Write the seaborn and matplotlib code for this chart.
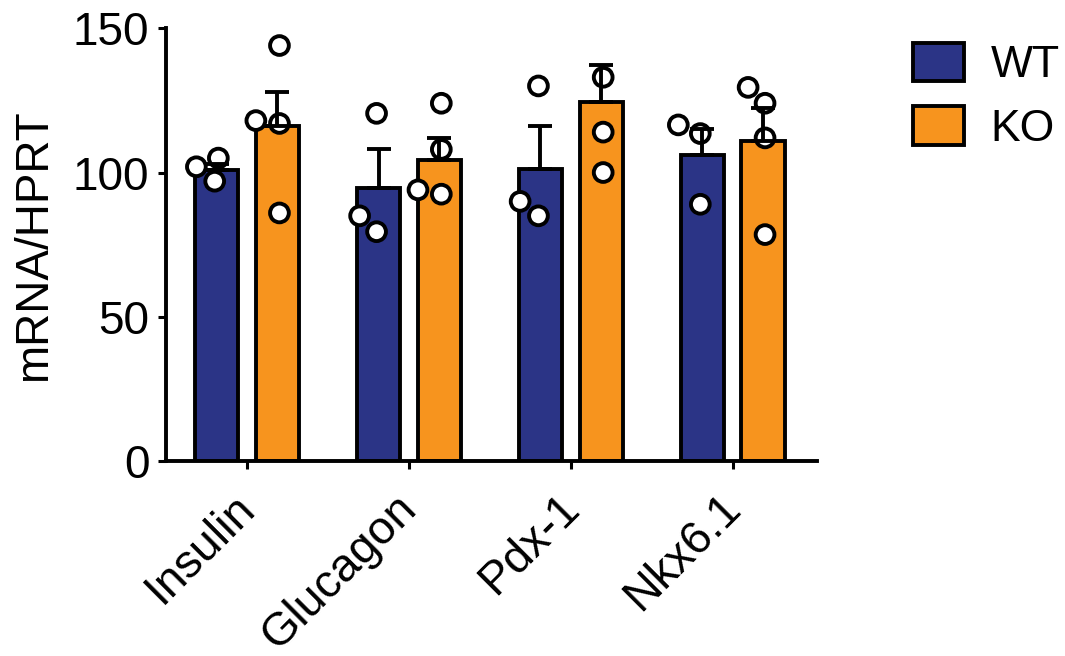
import pandas as pd
import matplotlib.pyplot as plt
import matplotlib.patches as mpatches
import matplotlib.transforms as mtransforms
import seaborn as sns

# values
genes = ["Insulin", "Glucagon", "Pdx-1", "Nkx6.1"]
groups = ["WT", "KO"]

wt_mean = [101.0, 94.6, 101.3, 106.0]
ko_mean = [116.0, 104.3, 124.5, 110.8]
wt_sem = [2.0, 13.5, 14.7, 9.2]
ko_sem = [12.0, 7.7, 12.7, 11.5]

wt_points = [[105, 102, 97], [120.5, 85, 79.5], [130, 90, 85], [116.5, 113.5, 89]]
ko_points = [[144, 118, 117, 86], [124, 108, 94, 92.5], [133, 114, 100], [129.5, 124, 112, 78.5]]

colors = {"WT": "#2B3486", "KO": "#F7941E"}

sns.set_theme(style="ticks")
plt.rcParams['font.family'] = ['Liberation Sans', 'DejaVu Sans']
plt.rcParams.update({"text.color": "black", "axes.labelcolor": "black",
                     "xtick.color": "black", "ytick.color": "black",
                     "axes.edgecolor": "black"})

LW = 2.8

# long-form tables
bars = pd.DataFrame({
    "gene": genes * 2,
    "group": ["WT"] * 4 + ["KO"] * 4,
    "value": wt_mean + ko_mean,
    "sem": wt_sem + ko_sem,
})
rows = []
for g, pts in zip(genes, wt_points):
    rows += [(g, "WT", v) for v in pts]
for g, pts in zip(genes, ko_points):
    rows += [(g, "KO", v) for v in pts]
points = pd.DataFrame(rows, columns=["gene", "group", "value"])

fig = plt.figure(figsize=(10.65, 6.56), dpi=100)
ax = fig.add_axes([0.156, 0.297, 0.611, 0.660])

sns.barplot(data=bars, x="gene", y="value", hue="group", order=genes, hue_order=groups,
            palette=colors, width=0.75, gap=0.29, edgecolor="black", linewidth=LW,
            errorbar=None, legend=False, saturation=1, ax=ax)

# SEM bars, upward only
patches = sorted([p for p in ax.patches if p.get_width() > 0], key=lambda p: p.get_x())
sems = []
for g in genes:
    for grp in groups:
        sems.append(bars[(bars.gene == g) & (bars.group == grp)]["sem"].iloc[0])
for p, s in zip(patches, sems):
    xc = p.get_x() + p.get_width() / 2
    ax.errorbar(xc, p.get_height(), yerr=[[0], [s]], color="black", lw=LW,
                capsize=8.5, capthick=LW, zorder=4)

sns.swarmplot(data=points, x="gene", y="value", hue="group", order=genes, hue_order=groups,
              dodge=True, palette={"WT": "white", "KO": "white"}, edgecolor="black",
              linewidth=LW, size=13.5, legend=False, ax=ax, zorder=3)

ax.set_ylim(0, 150)
ax.set_yticks([0, 50, 100, 150])
ax.set_xlim(-0.5, 3.52)
ax.set_xlabel("")
ax.set_ylabel("mRNA/HPRT", fontsize=33, labelpad=12)
ax.tick_params(axis="y", labelsize=33, width=2.2, length=6, pad=6)
ax.tick_params(axis="x", labelsize=33.5, width=2.2, length=6, pad=29)
# shift rotated labels a little to the right, as in the original
shift = mtransforms.ScaledTranslation(10 / 100, 0, fig.dpi_scale_trans)
for lab in ax.get_xticklabels():
    lab.set_rotation(45)
    lab.set_ha("right")
    lab.set_va("baseline")
    lab.set_rotation_mode("anchor")
    lab.set_transform(lab.get_transform() + shift)
for side in ["top", "right"]:
    ax.spines[side].set_visible(False)
for side in ["left", "bottom"]:
    ax.spines[side].set_linewidth(LW)

handles = [mpatches.Patch(facecolor=colors[g], edgecolor="black", linewidth=LW, label=g) for g in groups]
fig.legend(handles=handles, loc="upper left", bbox_to_anchor=(913 / 1065, 1 - 43 / 656),
           frameon=False, fontsize=32, handlelength=1.15, handleheight=0.95,
           handletextpad=0.6, labelspacing=0.45, borderpad=0, borderaxespad=0)

fig.savefig("out.png", dpi=100)
